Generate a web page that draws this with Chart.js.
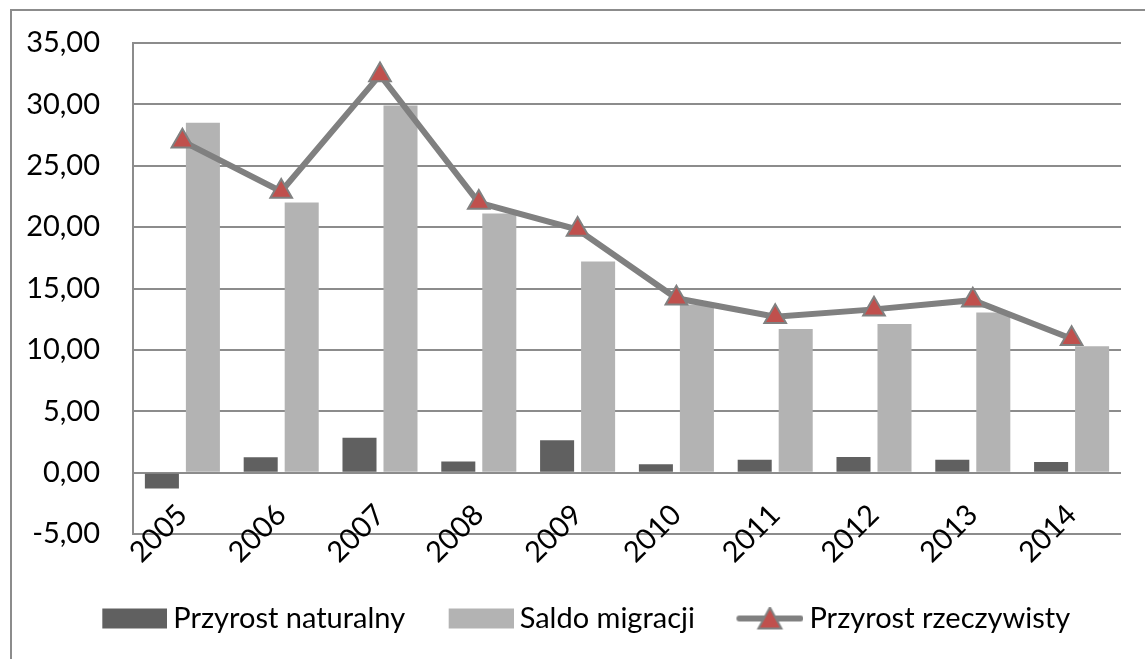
<!DOCTYPE html>
<html>
<head>
<meta charset="utf-8">
<script src="https://cdn.jsdelivr.net/npm/chart.js@4"></script>
<style>
  html, body { margin: 0; padding: 0; background: #fff; overflow: hidden; }
  #frame { position: absolute; left: 10px; top: 9px; width: 1200px; height: 700px;
           border-left: 2px solid #8c8c8c; border-top: 2px solid #8c8c8c; }
  #wrap { position: absolute; left: 0; top: 0; width: 1145px; height: 659px; }
</style>
</head>
<body>
<div id="frame"></div>
<div id="wrap"><canvas id="chart"></canvas></div>
<script>
const years = ['2005', '2006', '2007', '2008', '2009', '2010', '2011', '2012', '2013', '2014']
const przyrostNaturalny = [-1.3, 1.25, 2.85, 0.9, 2.64, 0.68, 1.05, 1.27, 1.05, 0.87]
const saldoMigracji = [28.5, 22.0, 29.9, 21.1, 17.2, 13.7, 11.7, 12.1, 13.05, 10.3]
const przyrostRzeczywisty = [27.0, 22.9, 32.4, 22.0, 19.8, 14.2, 12.7, 13.3, 14.05, 10.9]
const yMin = -5
const yMax = 35
const yStep = 5

const GRID = '#8c8c8c'
const FONT = 'Lato'

// legend icons: icon sits at the right of a wider canvas, blank on the left
// gives the gap between legend items
const ICON_W = 107
const legendIcon = (draw) => {
  const c = document.createElement('canvas')
  c.width = ICON_W
  c.height = 24
  draw(c.getContext('2d'))
  return c
}
const rectIcon = (color) => legendIcon(g => {
  g.fillStyle = color
  g.fillRect(ICON_W - 65, 2, 65, 20)
})
const lineIcon = legendIcon(g => {
  const x0 = ICON_W - 67
  g.strokeStyle = '#808080'
  g.lineWidth = 6
  g.lineCap = 'round'
  g.beginPath()
  g.moveTo(x0 + 3, 12)
  g.lineTo(x0 + 64, 12)
  g.stroke()
  g.fillStyle = '#c0504d'
  g.lineWidth = 2
  g.beginPath()
  g.moveTo(x0 + 33.5, 1)
  g.lineTo(x0 + 45, 22)
  g.lineTo(x0 + 22, 22)
  g.closePath()
  g.fill()
  g.stroke()
})
const icons = [rectIcon('#606060'), rectIcon('#b3b3b3'), lineIcon]

const ctx = document.getElementById('chart')
new Chart(ctx, {
  type: 'bar',
  data: {
    labels: years,
    datasets: [
      {
        label: 'Przyrost naturalny',
        data: przyrostNaturalny,
        backgroundColor: '#606060',
        categoryPercentage: 0.83,
        barPercentage: 0.83,
        order: 1,
      },
      {
        label: 'Saldo migracji',
        data: saldoMigracji,
        backgroundColor: '#b3b3b3',
        categoryPercentage: 0.83,
        barPercentage: 0.83,
        order: 1,
      },
      {
        type: 'line',
        label: 'Przyrost rzeczywisty',
        data: przyrostRzeczywisty,
        borderColor: '#808080',
        borderWidth: 6,
        pointStyle: 'triangle',
        pointRadius: 12.5,
        pointBackgroundColor: '#c0504d',
        pointBorderColor: '#808080',
        pointBorderWidth: 2,
        tension: 0,
        order: 0,
      },
    ],
  },
  options: {
    responsive: true,
    maintainAspectRatio: false,
    animation: false,
    layout: { padding: { top: 43, right: 24, bottom: 16, left: 18 } },
    plugins: {
      tooltip: { enabled: false },
      legend: {
        position: 'bottom',
        labels: {
          usePointStyle: true,
          pointStyleWidth: 90,
          boxHeight: 22,
          padding: 10,
          color: '#000',
          font: { family: FONT, size: 29 },
          generateLabels: (chart) => chart.data.datasets.map((ds, i) => ({
            text: ds.label,
            pointStyle: icons[i],
            fillStyle: 'transparent',
            strokeStyle: 'transparent',
            lineWidth: 0,
            hidden: false,
            datasetIndex: i,
          })),
        },
      },
    },
    scales: {
      // bottom axis only keeps the room under the plot
      x: {
        grid: { display: false, drawTicks: false },
        border: { display: false },
        ticks: { display: false },
        afterFit: (scale) => { scale.height = 60 },
      },
      // year labels hang from the 0 line, as in the original
      xl: {
        type: 'category',
        position: { y: 0 },
        offset: true,
        grid: { display: false, drawTicks: false },
        border: { display: false },
        ticks: {
          autoSkip: false,
          minRotation: 45,
          maxRotation: 45,
          padding: 25,
          color: '#000',
          font: { family: FONT, size: 29 },
        },
      },
      y: {
        min: yMin,
        max: yMax,
        grid: { color: GRID, lineWidth: 2, drawTicks: false },
        border: { display: true, color: GRID, width: 2 },
        ticks: {
          stepSize: yStep,
          padding: 33,
          color: '#000',
          font: { family: FONT, size: 29 },
          callback: (v) => v.toFixed(2).replace('.', ','),
        },
        afterFit: (scale) => {
          scale.width = 115
          // tick padding must not push the plot down
          scale.paddingTop = 0
          scale.paddingBottom = 0
        },
      },
    },
  },
})
</script>
</body>
</html>
